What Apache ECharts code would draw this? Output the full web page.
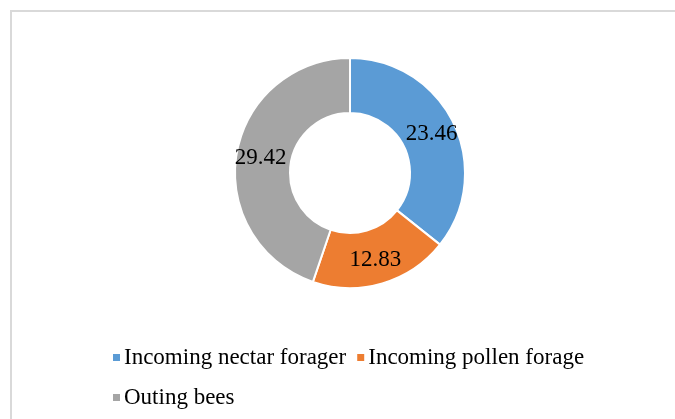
<!DOCTYPE html>
<html>
<head>
<meta charset="utf-8">
<script src="https://cdn.jsdelivr.net/npm/echarts@6/dist/echarts.min.js"></script>
<style>
  html, body { margin: 0; padding: 0; background: #fff; }
  #main { width: 675px; height: 419px; }
</style>
</head>
<body>
<div id="main"></div>
<script>
const categories = ['Incoming nectar forager', 'Incoming pollen forage', 'Outing bees'];
const values = [23.46, 12.83, 29.42];
const colors = ['#5b9bd5', '#ed7d31', '#a5a5a5'];

const chart = echarts.init(document.getElementById('main'));

const option = {
  animation: false,
  color: colors,
  graphic: [
    {
      type: 'rect',
      shape: { x: 11, y: 11, width: 720, height: 480 },
      style: { fill: 'none', stroke: '#d9d9d9', lineWidth: 2 }
    }
  ],
  legend: {
    data: categories,
    left: 106,
    top: 337,
    width: 500,
    orient: 'horizontal',
    icon: 'rect',
    itemWidth: 9,
    itemHeight: 9,
    itemGap: 9,
    textStyle: {
      fontFamily: 'Liberation Serif',
      fontSize: 23,
      color: '#000',
      lineHeight: 31,
      padding: [0, 0, 0, -2]
    }
  },
  series: [
    {
      type: 'pie',
      center: [350, 173],
      radius: [60, 115],
      startAngle: 90,
      clockwise: true,
      avoidLabelOverlap: false,
      itemStyle: { borderColor: '#fff', borderWidth: 2 },
      label: {
        show: true,
        position: 'inside',
        formatter: (p) => p.value.toFixed(2),
        fontFamily: 'Liberation Serif',
        fontSize: 23,
        color: '#000'
      },
      labelLine: { show: false },
      emphasis: { disabled: true },
      data: categories.map((name, i) => ({ name, value: values[i] }))
    }
  ]
};

chart.setOption(option);
</script>
</body>
</html>
